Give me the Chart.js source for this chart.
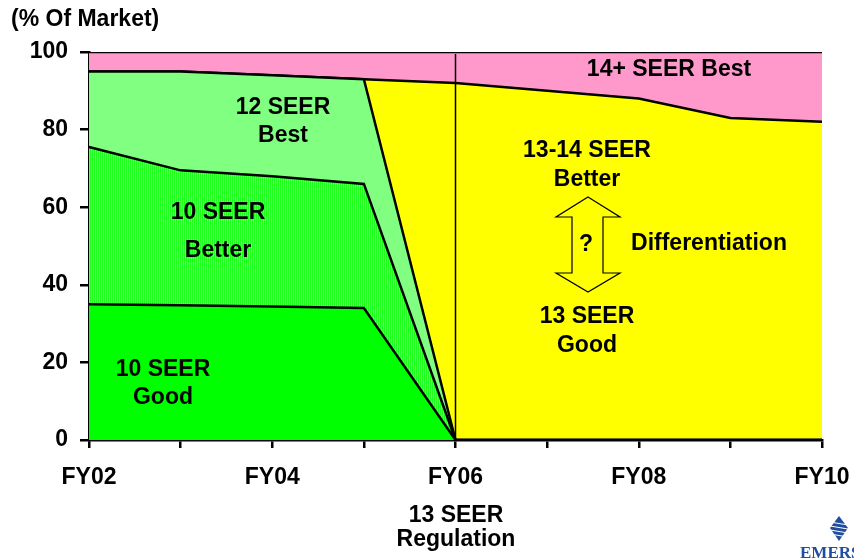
<!DOCTYPE html>
<html>
<head>
<meta charset="utf-8">
<script src="https://cdn.jsdelivr.net/npm/chart.js@4"></script>
<style>
  html, body { margin: 0; padding: 0; background: #fff; }
  #wrap { width: 854px; height: 560px; }
</style>
</head>
<body>
<div id="wrap"><canvas id="seerChart" width="854" height="560"></canvas></div>
<script>
// market share by efficiency class, % of market, stacked
const years = ["FY02", "FY03", "FY04", "FY05", "FY06", "FY07", "FY08", "FY09", "FY10"];
const good10 = [35, 34.7, 34.4, 34, 0, 0, 0, 0, 0];
const better10 = [40.5, 34.8, 33.6, 32, 0, 0, 0, 0, 0];
const best12 = [19.5, 25.5, 26, 27, 0, 0, 0, 0, 0];
const seer13 = [0, 0, 0, 0, 92, 90, 88, 83, 82];
const seer14 = [5, 5, 6, 7, 8, 10, 12, 17, 18];
const yTicks = [0, 20, 40, 60, 80, 100];
const shownYears = ["FY02", "FY04", "FY06", "FY08", "FY10"];

const FONT = "'Liberation Sans', Arial, sans-serif";

// fine vertical stripes for the "10 SEER Better" band
function stripePattern() {
    const c = document.createElement('canvas');
    c.width = 2; c.height = 1;
    const g = c.getContext('2d');
    g.fillStyle = 'rgb(30,255,30)'; g.fillRect(0, 0, 1, 1);
    g.fillStyle = 'rgb(95,255,95)'; g.fillRect(1, 0, 1, 1);
    return g.createPattern(c, 'repeat');
}

const ctx = document.getElementById('seerChart').getContext('2d');

const labelsPlugin = {
    id: 'labels',
    afterDatasetsDraw(chart) {
        const g = chart.ctx;
        const area = chart.chartArea;
        const xs = chart.scales.x;

        // regulation line at FY06
        const xr = xs.getPixelForValue(years.indexOf("FY06"));
        g.save();
        g.strokeStyle = '#000';
        g.lineWidth = 1.5;
        g.beginPath();
        g.moveTo(xr, area.top + 2);
        g.lineTo(xr, area.bottom);
        g.stroke();

        // double arrow
        g.beginPath();
        g.moveTo(588, 197);
        g.lineTo(620, 217);
        g.lineTo(603, 217);
        g.lineTo(603, 273);
        g.lineTo(620, 273);
        g.lineTo(588, 292);
        g.lineTo(556, 273);
        g.lineTo(572, 273);
        g.lineTo(572, 217);
        g.lineTo(556, 217);
        g.closePath();
        g.fillStyle = '#ffff00';
        g.fill();
        g.lineWidth = 1.2;
        g.stroke();

        g.fillStyle = '#000';
        g.font = 'bold 23px ' + FONT;
        g.textAlign = 'center';
        g.textBaseline = 'middle';
        const txt = [
            ["12 SEER", 283, 108], ["Best", 283, 136],
            ["10 SEER", 218, 213], ["Better", 218, 251],
            ["10 SEER", 163, 370], ["Good", 163, 398],
            ["14+ SEER Best", 669, 70],
            ["13-14 SEER", 587, 151], ["Better", 587, 180],
            ["13 SEER", 587, 317], ["Good", 587, 346],
            ["?", 586, 245],
            ["Differentiation", 709, 244],
            ["13 SEER", 456, 516], ["Regulation", 456, 540]
        ];
        txt.forEach(t => g.fillText(t[0], t[1], t[2]));

        g.textAlign = 'left';
        g.fillText("(% Of Market)", 11, 20);

        // Emerson logo, cut by the page edge
        g.fillStyle = '#1f4e9c';
        g.beginPath();
        g.moveTo(839, 516);
        g.lineTo(848, 528);
        g.lineTo(839, 541);
        g.lineTo(830, 528);
        g.closePath();
        g.fill();
        g.strokeStyle = '#fff';
        g.lineWidth = 1;
        for (let i = 0; i < 4; i++) {
            g.beginPath();
            g.moveTo(830, 522 + i * 4);
            g.lineTo(848, 525 + i * 4);
            g.stroke();
        }
        g.fillStyle = '#1f4e9c';
        g.font = 'bold 17px "Liberation Serif", serif';
        g.textBaseline = 'alphabetic';
        g.fillText("EMERSON", 800, 558);
        g.restore();
    }
};

const seerChart = new Chart(ctx, {
    type: 'line',
    data: {
        labels: years,
        datasets: [
            { label: '10 SEER Good', data: good10, backgroundColor: '#00ff00', fill: 'origin' },
            { label: '10 SEER Better', data: better10, backgroundColor: stripePattern(), fill: '-1' },
            { label: '12 SEER Best', data: best12, backgroundColor: '#80ff80', fill: '-1' },
            { label: '13 SEER', data: seer13, backgroundColor: '#ffff00', fill: '-1' },
            { label: '14+ SEER', data: seer14, backgroundColor: '#ff99cc', fill: '-1' }
        ]
    },
    options: {
        responsive: false,
        animation: false,
        devicePixelRatio: 1,
        layout: { padding: { left: 0, top: 52, right: 32, bottom: 0 } },
        elements: {
            line: { borderColor: '#000', borderWidth: 2.5, tension: 0 },
            point: { radius: 0 }
        },
        plugins: {
            legend: { display: false },
            tooltip: { enabled: false }
        },
        scales: {
            x: {
                offset: false,
                afterFit: s => { s.height = 120; s.paddingLeft = 0; s.paddingRight = 0; },
                border: { display: true, color: '#000', width: 2.5 },
                grid: { drawOnChartArea: false, drawTicks: true, tickLength: 8, color: '#000', lineWidth: 2.5 },
                ticks: {
                    autoSkip: false,
                    maxRotation: 0,
                    padding: 16,
                    color: '#000',
                    font: { family: FONT, size: 23, weight: 'bold' },
                    callback: (v, i) => shownYears.includes(years[i]) ? years[i] : ''
                }
            },
            y: {
                stacked: true,
                min: 0,
                max: 100,
                afterFit: s => { s.width = 89; s.paddingTop = 0; s.paddingBottom = 0; },
                afterBuildTicks: s => { s.ticks = yTicks.map(v => ({ value: v })); },
                border: { display: true, color: '#000', width: 2.5 },
                grid: { drawOnChartArea: false, drawTicks: true, tickLength: 9, color: '#000', lineWidth: 2.5 },
                ticks: {
                    padding: 12,
                    color: '#000',
                    font: { family: FONT, size: 23, weight: 'bold' }
                }
            }
        }
    },
    plugins: [labelsPlugin]
});
</script>
</body>
</html>
